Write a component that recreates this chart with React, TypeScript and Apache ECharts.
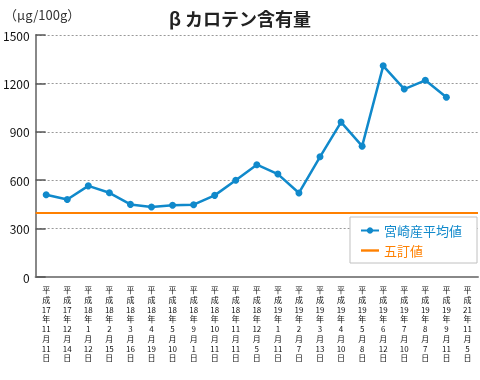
import React, { useEffect, useRef } from "react";
import * as echarts from "echarts";

const categories = [
  "平成17年11月11日",
  "平成17年12月14日",
  "平成18年1月12日",
  "平成18年2月15日",
  "平成18年3月16日",
  "平成18年4月19日",
  "平成18年5月10日",
  "平成18年9月1日",
  "平成18年10月11日",
  "平成18年11月11日",
  "平成18年12月5日",
  "平成19年1月11日",
  "平成19年2月7日",
  "平成19年3月13日",
  "平成19年4月10日",
  "平成19年5月8日",
  "平成19年6月12日",
  "平成19年7月10日",
  "平成19年8月7日",
  "平成19年9月11日",
  "平成21年11月5日",
];

const miyazakiAvg: (number | null)[] = [
  510, 480, 565, 522, 450, 434, 445, 448, 506, 600, 696, 638, 521, 745, 960, 811,
  1309, 1165, 1219, 1114, null,
];

const goteiValue = 400;

const yTicks = { min: 0, max: 1500, interval: 300 };

const BLUE = "#1089cb";
const ORANGE = "#ff8000";
const FONT = "'Noto Sans CJK JP', 'Noto Sans', sans-serif";

export default function App() {
  const ref = useRef<HTMLDivElement>(null);
  useEffect(() => {
    if (!ref.current) return;
    const chart = echarts.init(ref.current, null, { renderer: "svg" });
    chart.setOption({
      animation: false,
      textStyle: { fontFamily: FONT },
      title: {
        text: "β カロテン含有量",
        left: "center",
        top: 4,
        textStyle: { fontSize: 18, fontWeight: "bold", color: "#222", fontFamily: FONT },
      },
      graphic: [
        {
          type: "text",
          left: 4,
          top: 8,
          style: { text: "（μg/100g）", fontSize: 13, fill: "#333", fontFamily: FONT },
        },
      ],
      legend: {
        orient: "vertical",
        right: 3,
        top: 217,
        backgroundColor: "#fff",
        borderColor: "#c0c0c0",
        borderWidth: 1,
        borderRadius: 0,
        padding: [7, 15, 6, 10],
        itemGap: 7,
        itemWidth: 18,
        itemHeight: 8,
        textStyle: { fontSize: 13, fontFamily: FONT },
        data: [
          { name: "宮崎産平均値", textStyle: { color: BLUE } },
          {
            name: "五訂値",
            icon: "path://M0,0h18v2.4h-18z",
            itemStyle: { color: ORANGE },
            textStyle: { color: ORANGE },
          },
        ],
      },
      grid: { left: 35, right: 2, top: 35, bottom: 103, containLabel: false },
      xAxis: {
        type: "category",
        data: categories,
        boundaryGap: true,
        axisLine: { lineStyle: { color: "#888", width: 2 } },
        axisTick: { inside: true, length: 6, lineStyle: { color: "#333" } },
        axisLabel: {
          interval: 0,
          margin: 8,
          color: "#111",
          fontSize: 8,
          lineHeight: 9.7,
          fontFamily: FONT,
          formatter: (v: string) => (v.match(/\d+|./g) || []).join("\n"),
        },
      },
      yAxis: {
        type: "value",
        min: yTicks.min,
        max: yTicks.max,
        interval: yTicks.interval,
        axisLine: { show: true, lineStyle: { color: "#888", width: 2 } },
        axisTick: { show: true, inside: true, length: 10, lineStyle: { color: "#555", width: 1.5 } },
        axisLabel: {
          color: "#111",
          fontSize: 12,
          margin: 6,
          fontFamily: FONT,
          formatter: (v: number) => String(v),
        },
        splitLine: { lineStyle: { color: "#999", type: [2, 2] } },
      },
      series: [
        {
          name: "宮崎産平均値",
          type: "line",
          data: miyazakiAvg,
          symbol: "circle",
          symbolSize: 7,
          color: BLUE,
          lineStyle: { color: BLUE, width: 2.5 },
          itemStyle: { color: BLUE },
          z: 5,
        },
        {
          name: "五訂値",
          type: "line",
          data: [],
          symbol: "none",
          color: ORANGE,
          lineStyle: { color: ORANGE, width: 2 },
          markLine: {
            silent: true,
            symbol: "none",
            label: { show: false },
            lineStyle: { color: ORANGE, width: 2, type: "solid" },
            data: [{ yAxis: goteiValue }],
          },
          z: 3,
        },
      ],
    });
    return () => chart.dispose();
  }, []);
  return (
    <div
      ref={ref}
      style={{ position: "fixed", left: 0, top: 0, width: 480, height: 380 }}
    />
  );
}
